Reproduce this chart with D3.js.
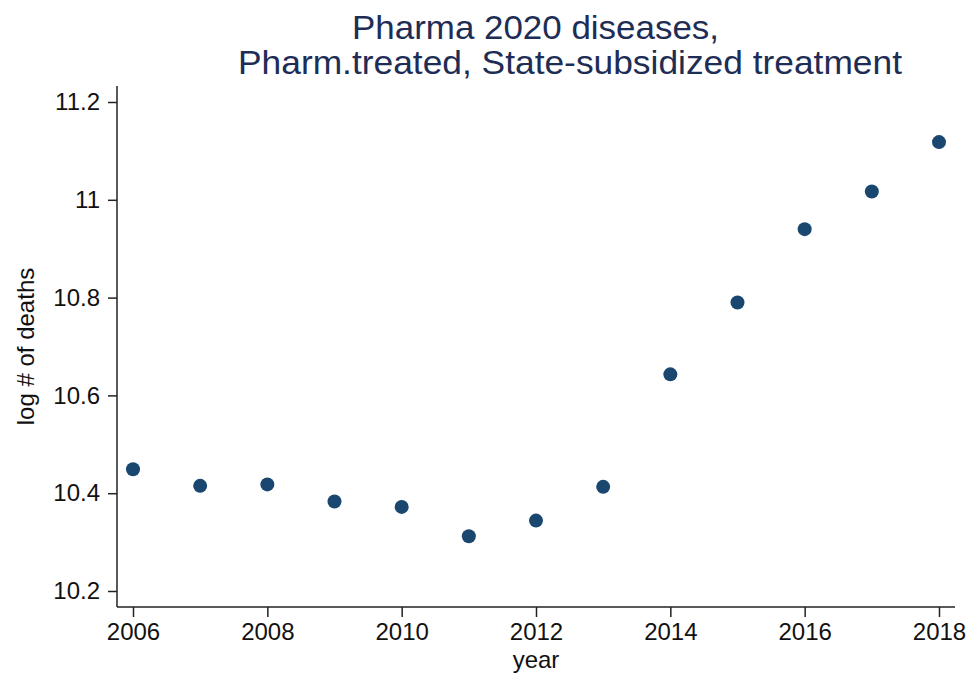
<!DOCTYPE html>
<html>
<head>
<meta charset="utf-8">
<script src="https://cdn.jsdelivr.net/npm/d3@7"></script>
<style>
  html, body { margin: 0; padding: 0; background: #fff; }
  svg { display: block; font-family: "Liberation Sans", Arial, sans-serif; }
</style>
</head>
<body>
<div id="chart"></div>
<script>
// log # of deaths by year
const years = [2006, 2007, 2008, 2009, 2010, 2011, 2012, 2013, 2014, 2015, 2016, 2017, 2018];
const logDeaths = [10.449, 10.415, 10.418, 10.383, 10.372, 10.312, 10.344, 10.413, 10.643, 10.790, 10.940, 11.017, 11.118];
const xTicks = [2006, 2008, 2010, 2012, 2014, 2016, 2018];
const yTicks = [10.2, 10.4, 10.6, 10.8, 11, 11.2];
const titleLines = ["Pharma 2020 diseases,", "Pharm.treated, State-subsidized treatment"];

const width = 971, height = 673;
const dotColor = "#1a476f";
const titleColor = "#1e2d55";
const axisColor = "#222";

const points = years.map((yr, i) => ({ year: yr, value: logDeaths[i] }));

const x = d3.scaleLinear().domain([2006, 2018]).range([133, 939]);
const y = d3.scaleLinear().domain([10.2, 11.2]).range([591, 102]);

const svg = d3.select('#chart').append('svg')
  .attr('width', width)
  .attr('height', height);

// axes lines sit a bit outside the data range
const axisX0 = 117, axisY0 = 607;

svg.append('line')
  .attr('x1', axisX0).attr('x2', axisX0)
  .attr('y1', 86).attr('y2', axisY0)
  .attr('stroke', axisColor).attr('stroke-width', 1.5);

svg.append('line')
  .attr('x1', axisX0).attr('x2', 955)
  .attr('y1', axisY0).attr('y2', axisY0)
  .attr('stroke', axisColor).attr('stroke-width', 1.5);

const yAxis = svg.append('g')
  .attr('transform', `translate(${axisX0},0)`)
  .call(d3.axisLeft(y).tickValues(yTicks).tickSize(9).tickPadding(8).tickFormat(d3.format('~g')));

const xAxis = svg.append('g')
  .attr('transform', `translate(0,${axisY0})`)
  .call(d3.axisBottom(x).tickValues(xTicks).tickSize(10).tickPadding(6).tickFormat(d3.format('d')));

[yAxis, xAxis].forEach(g => {
  g.select('.domain').remove();
  g.selectAll('.tick line').attr('stroke', axisColor).attr('stroke-width', 1.5);
  g.selectAll('.tick text')
    .attr('fill', '#111')
    .style('font-size', '24px')
    .style('font-family', '"Liberation Sans", Arial, sans-serif');
});

// dots
svg.append('g').selectAll('circle')
  .data(points).enter().append('circle')
  .attr('cx', d => x(d.year))
  .attr('cy', d => y(d.value))
  .attr('r', 7)
  .attr('fill', dotColor);

// axis titles
svg.append('text')
  .attr('transform', `translate(34,${(86 + axisY0) / 2}) rotate(-90)`)
  .attr('text-anchor', 'middle')
  .attr('fill', '#111')
  .style('font-size', '24px')
  .text('log # of deaths');

svg.append('text')
  .attr('x', (axisX0 + 955) / 2)
  .attr('y', 668)
  .attr('text-anchor', 'middle')
  .attr('fill', '#111')
  .style('font-size', '24px')
  .text('year');

// title
const titleStarts = [352, 238];
const titleWidths = [367, 664];
const titleBase = [39, 74];
svg.append('g').selectAll('text')
  .data(titleLines).enter().append('text')
  .attr('x', (d, i) => titleStarts[i])
  .attr('y', (d, i) => titleBase[i])
  .attr('textLength', (d, i) => titleWidths[i])
  .attr('lengthAdjust', 'spacingAndGlyphs')
  .attr('fill', titleColor)
  .style('font-size', '33px')
  .text(d => d);
</script>
</body>
</html>
